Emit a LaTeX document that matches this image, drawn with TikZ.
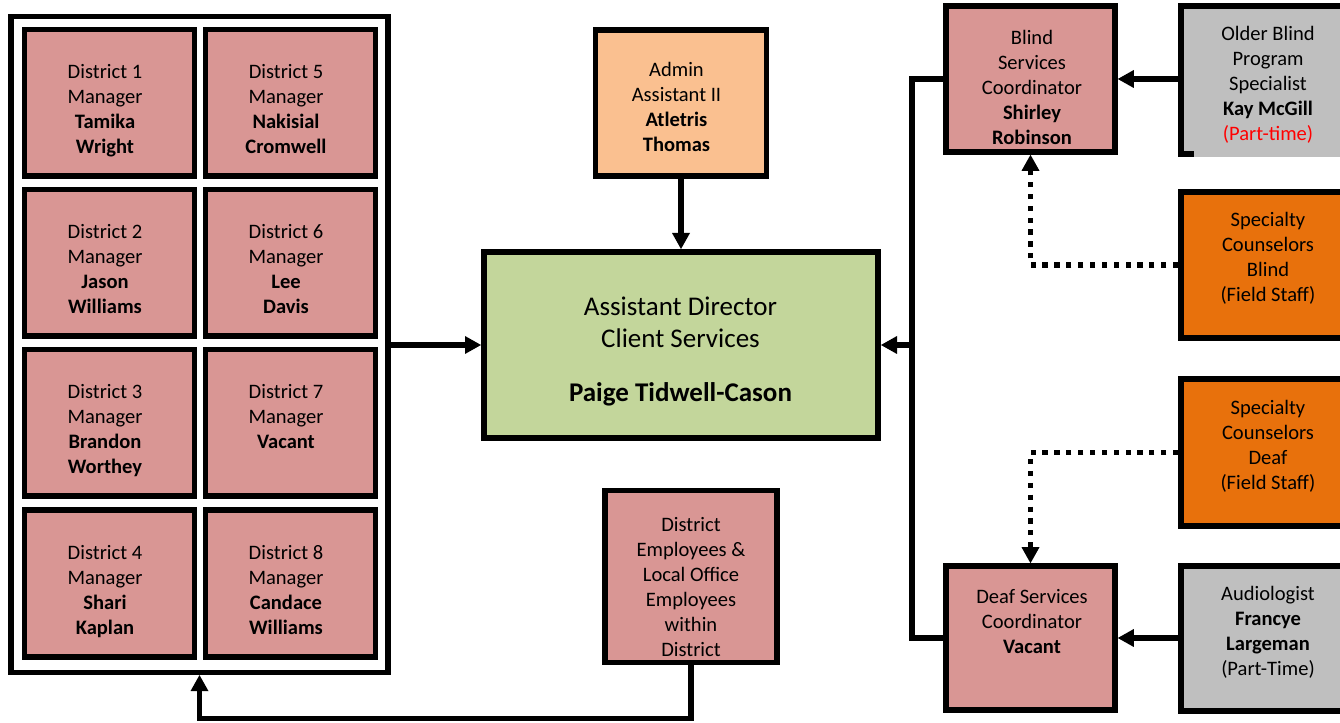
\documentclass[tikz,border=0pt]{standalone}
\usepackage{fontspec}
\setmainfont{Carlito}
\usetikzlibrary{arrows.meta}

\definecolor{mgrpink}{RGB}{217,150,148}
\definecolor{adgreen}{RGB}{195,214,155}
\definecolor{adminpeach}{RGB}{250,192,144}
\definecolor{fieldorange}{RGB}{232,113,12}
\definecolor{ptgray}{RGB}{191,191,191}

\tikzset{every picture/.style={line width=0.75pt}}
\tikzset{
  box/.style={draw=black, line width=4.2pt, inner sep=0pt},
  dbox/.style={box, fill=mgrpink, minimum width=127.5pt, minimum height=110pt},
  txt/.style={anchor=north, align=center, inner sep=0pt, font=\fontsize{15.4}{18.75}\selectfont},
  conn/.style={line width=3.9pt},
  arr/.style={conn, -{Triangle[length=12pt,width=13.5pt,line width=0pt]}},
  dotarr/.style={arr, dash pattern=on 3.9pt off 5pt},
}

\begin{document}
\begin{tikzpicture}[x=0.75pt,y=0.75pt,yscale=-1,xscale=1]
	\useasboundingbox (0,0) rectangle (1340,723);
	\clip (0,0) rectangle (1340,723);

	%Shape: Rectangle [districts frame]
	\node[box, line width=3.9pt, minimum width=282.75pt, minimum height=492pt] (districts) at (199.5,344.5) {};
	%Shape: Rectangle [district managers]
	\node[dbox] (dist1) at (109.5,102.75) {};
	\node[dbox] (dist5) at (290.5,102.75) {};
	\node[dbox] (dist2) at (109.5,262.75) {};
	\node[dbox] (dist6) at (290.5,262.75) {};
	\node[dbox] (dist3) at (109.5,422.75) {};
	\node[dbox] (dist7) at (290.5,422.75) {};
	\node[dbox] (dist4) at (109.5,583.5) {};
	\node[dbox] (dist8) at (290.5,583.5) {};
	% Text Node
	\node[txt] (dist1txt) at (105,64.25) {District 1\\Manager\\\textbf{Tamika}\\\textbf{Wright}};
	\node[txt] (dist5txt) at (286,64.25) {District 5\\Manager\\\textbf{Nakisial}\\\textbf{Cromwell}};
	\node[txt] (dist2txt) at (105,224.25) {District 2\\Manager\\\textbf{Jason}\\\textbf{Williams}};
	\node[txt] (dist6txt) at (286,224.25) {District 6\\Manager\\\textbf{Lee}\\\textbf{Davis}};
	\node[txt] (dist3txt) at (105,384.25) {District 3\\Manager\\\textbf{Brandon}\\\textbf{Worthey}};
	\node[txt] (dist7txt) at (286,384.25) {District 7\\Manager\\\textbf{Vacant}};
	\node[txt] (dist4txt) at (105,544.75) {District 4\\Manager\\\textbf{Shari}\\\textbf{Kaplan}};
	\node[txt] (dist8txt) at (286,544.75) {District 8\\Manager\\\textbf{Candace}\\\textbf{Williams}};

	%Shape: Rectangle [admin assistant]
	\node[box, fill=adminpeach, minimum width=128.25pt, minimum height=109.5pt] (admin) at (681,103) {};
	% Text Node
	\node[txt] (admintxt) at (676.5,61.7) {Admin\\Assistant II\\\textbf{Atletris}\\\textbf{Thomas}};

	%Shape: Rectangle [assistant director]
	\node[box, line width=4.5pt, fill=adgreen, minimum width=295.5pt, minimum height=139.5pt] (ad) at (681,345) {};
	% Text Node
	\node[txt, font=\fontsize{20.25}{23.8}\selectfont] (adtxt) at (680.5,296.7) {Assistant Director\\Client Services\\[16.5pt]\textbf{Paige Tidwell-Cason}};

	%Shape: Rectangle [district employees]
	\node[box, fill=mgrpink, minimum width=129pt, minimum height=129pt] (demp) at (691,576.5) {};
	% Text Node
	\node[txt] (demptxt) at (691,517) {District\\Employees \&\\Local Office\\Employees\\within\\District};

	%Shape: Rectangle [blind services]
	\node[box, fill=mgrpink, minimum width=126.75pt, minimum height=109.5pt] (blind) at (1030.5,79) {};
	% Text Node
	\node[txt] (blindtxt) at (1032,29.3) {Blind\\Services\\Coordinator\\\textbf{Shirley}\\\textbf{Robinson}};

	%Shape: Rectangle [older blind program]
	\node[fill=ptgray, inner sep=0pt, outer sep=0pt, minimum width=135pt, minimum height=115.5pt] (older) at (1268,80) {};
	\draw[line width=4.2pt] (1360,6) -- (1181,6) -- (1181,154) -- (1194,154);
	% Text Node
	\node[txt] (oldertxt) at (1268,26) {Older Blind\\Program\\Specialist\\\textbf{Kay McGill}\\\textcolor{red}{(Part-time)}};

	%Shape: Rectangle [specialty counselors]
	\node[box, fill=fieldorange, minimum width=130.5pt, minimum height=109.5pt] (specblind) at (1268,265) {};
	\node[box, fill=fieldorange, minimum width=130.5pt, minimum height=110.25pt] (specdeaf) at (1268,452.5) {};
	% Text Node
	\node[txt] (specblindtxt) at (1268,211.7) {Specialty\\Counselors\\Blind\\(Field Staff)};
	\node[txt] (specdeaftxt) at (1268,399.3) {Specialty\\Counselors\\Deaf\\(Field Staff)};

	%Shape: Rectangle [deaf services]
	\node[box, fill=mgrpink, minimum width=126.75pt, minimum height=108pt] (deaf) at (1030.5,638) {};
	% Text Node
	\node[txt] (deaftxt) at (1032,589.3) {Deaf Services\\Coordinator\\\textbf{Vacant}};

	%Shape: Rectangle [audiologist]
	\node[box, fill=ptgray, minimum width=130.5pt, minimum height=108.75pt] (aud) at (1268,638.5) {};
	% Text Node
	\node[txt] (audtxt) at (1268,586) {Audiologist\\\textbf{Francye}\\\textbf{Largeman}\\(Part-Time)};

	%Straight Lines [connectors]
	\draw[arr] (districts.east |- ad.west) -- (ad.west);
	\draw[arr] (admin.south) -- (ad.north);
	\coordinate (bus) at (912,345);
	\draw[conn] (blind.west) -| (bus) |- (deaf.west);
	\draw[arr] (bus) -- (ad.east);
	\draw[arr] (older.west |- blind.east) -- (blind.east);
	\draw[arr] (aud.west |- deaf.east) -- (deaf.east);
	\draw[dotarr] (specblind.west) -| (blind.south);
	\draw[dotarr] (specdeaf.west) -| (deaf.north);
	\draw[arr] (demp.south) -- ++(0,53) -| (districts.south);

\end{tikzpicture}
\end{document}
